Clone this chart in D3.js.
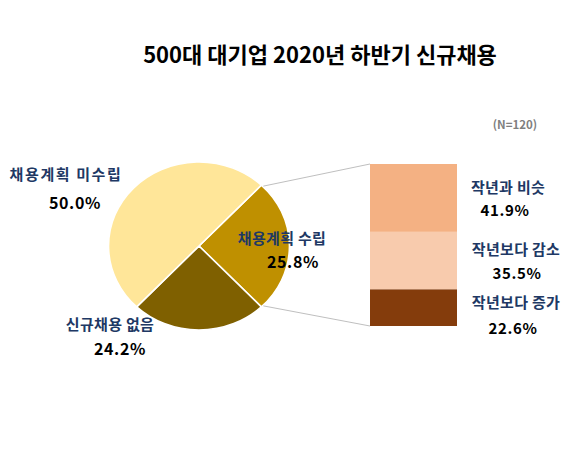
<!DOCTYPE html>
<html><head><meta charset="utf-8">
<script src="https://cdn.jsdelivr.net/npm/d3@7"></script>
<style>
html,body{margin:0;padding:0;background:#fff;}
text{font-family:"Noto Sans CJK KR","Noto Sans",sans-serif;}
</style></head>
<body>
<svg id="c" width="577" height="449"></svg>
<script>
const title = "500대 대기업 2020년 하반기 신규채용";
const note = "(N=120)";
const pieCategories = ["채용계획 수립", "신규채용 없음", "채용계획 미수립"];
const pieValues = [25.8, 24.2, 50.0];
const pieColors = ["#BF9000", "#7F6000", "#FFE699"];
const barCategories = ["작년과 비슷", "작년보다 감소", "작년보다 증가"];
const barValues = [41.9, 35.5, 22.6];
const barColors = ["#F4B183", "#F8CBAD", "#843C0C"];

const svg = d3.select("#c");
const navy = "#203864";

svg.append("text").attr("x", 320).attr("y", 63).attr("text-anchor", "middle")
  .attr("font-size", 22).attr("font-weight", 700).attr("fill", "#000").text(title);
svg.append("text").attr("x", 515).attr("y", 129).attr("text-anchor", "middle")
  .attr("font-size", 11.5).attr("font-weight", 700).attr("fill", "#7F7F7F").text(note);

// Pie
const cx = 199, cy = 246, r = 84, sx = 1.077;
const firstFrac = pieValues[0] / d3.sum(pieValues);
const start = Math.PI / 2 - firstFrac * Math.PI;
const pie = d3.pie().sort(null).startAngle(start).endAngle(start + 2 * Math.PI);
const arcs = pie(pieValues);
const arc = d3.arc().innerRadius(0).outerRadius(r);
const pg = svg.append("g").attr("transform", `translate(${cx},${cy}) scale(${sx},1)`);
pg.selectAll("path").data(arcs).join("path")
  .attr("d", arc).attr("fill", (d, i) => pieColors[i])
  .attr("stroke", "#fff").attr("stroke-width", 1.5);

// Bar (stacked)
const bx = 370, bw = 87;
const y = d3.scaleLinear().domain([0, d3.sum(barValues)]).range([164, 326]);
let acc = 0;
const segs = barValues.map((v, i) => { const s = { y0: acc, y1: acc + v, i }; acc += v; return s; });
svg.selectAll("rect.seg").data(segs).join("rect").attr("class", "seg")
  .attr("x", bx).attr("width", bw)
  .attr("y", d => y(d.y0)).attr("height", d => y(d.y1) - y(d.y0))
  .attr("fill", d => barColors[d.i]);

// connector lines
const pt = a => [cx + r * sx * Math.sin(a), cy - r * Math.cos(a)];
const a0 = arcs[0].startAngle, a1 = arcs[0].endAngle;
const p0 = pt(a0), p1 = pt(a1);
svg.append("line").attr("x1", p0[0] + 2).attr("y1", p0[1] + 1).attr("x2", bx).attr("y2", y(0))
  .attr("stroke", "#BFBFBF").attr("stroke-width", 1);
svg.append("line").attr("x1", p1[0] + 2).attr("y1", p1[1] - 1).attr("x2", bx).attr("y2", y(d3.sum(barValues)))
  .attr("stroke", "#BFBFBF").attr("stroke-width", 1);

// pie labels
const pieLabelPos = [[282, 244, 293, 268], [110, 330, 120, 355], [66, 180, 75, 209]];
pieCategories.forEach((c, i) => {
  const p = pieLabelPos[i];
  svg.append("text").attr("x", p[0]).attr("y", p[1]).attr("text-anchor", "middle")
    .attr("font-size", 15).attr("font-weight", 700).attr("fill", navy)
    .attr("letter-spacing", i === 2 ? 1.6 : 0.3).text(c);
  svg.append("text").attr("x", p[2]).attr("y", p[3]).attr("text-anchor", "middle")
    .attr("font-size", 16).attr("font-weight", 700).attr("fill", "#000")
    .attr("letter-spacing", 0.6).text(pieValues[i].toFixed(1) + "%");
});

// bar labels
const barLabelX = [[508, 505], [516, 517], [516, 513]];
const barLabelY = [[193, 216], [255, 279], [308, 334]];
barCategories.forEach((c, i) => {
  svg.append("text").attr("x", barLabelX[i][0]).attr("y", barLabelY[i][0]).attr("text-anchor", "middle")
    .attr("font-size", 15).attr("font-weight", 700).attr("fill", navy)
    .attr("letter-spacing", 0.3).text(c);
  svg.append("text").attr("x", barLabelX[i][1]).attr("y", barLabelY[i][1]).attr("text-anchor", "middle")
    .attr("font-size", 15).attr("font-weight", 700).attr("fill", "#000")
    .attr("letter-spacing", 0.6).text(barValues[i].toFixed(1) + "%");
});
</script>
</body></html>
